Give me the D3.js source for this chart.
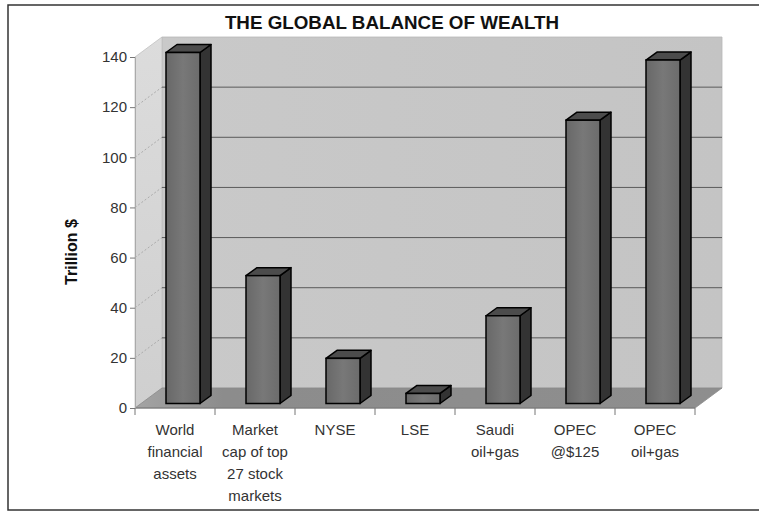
<!DOCTYPE html>
<html>
<head>
<meta charset="utf-8">
<script src="https://cdn.jsdelivr.net/npm/d3@7"></script>
<style>
  html, body { margin: 0; padding: 0; background: #ffffff; }
  svg { display: block; font-family: Arial, "Liberation Sans", sans-serif; }
</style>
</head>
<body>
<svg id="chart" width="759" height="513"></svg>
<script>
const title = "THE GLOBAL BALANCE OF WEALTH";
const yLabel = "Trillion $";
const categories = [
  "World financial assets",
  "Market cap of top 27 stock markets",
  "NYSE",
  "LSE",
  "Saudi oil+gas",
  "OPEC @$125",
  "OPEC oil+gas"
];
const categoryLines = [
  ["World", "financial", "assets"],
  ["Market", "cap of top", "27 stock", "markets"],
  ["NYSE"],
  ["LSE"],
  ["Saudi", "oil+gas"],
  ["OPEC", "@$125"],
  ["OPEC", "oil+gas"]
];
const values = [140, 51, 18, 4, 35, 113, 137];
const yTicks = [0, 20, 40, 60, 80, 100, 120, 140];

const svg = d3.select("#chart");

// frame
svg.append("rect").attr("x", 8).attr("y", 5).attr("width", 780).attr("height", 505)
  .attr("fill", "#ffffff").attr("stroke", "#333").attr("stroke-width", 1.5);

const x = d3.scaleBand().domain(categories).range([135, 695]);
const y = d3.scaleLinear().domain([0, 140]).range([408, 57]);
const depth = { dx: 27, dy: -20 };
const x0 = 135, x1 = 695;

const defs = svg.append("defs");
const gWall = defs.append("linearGradient").attr("id", "wall").attr("x1", 0).attr("x2", 1).attr("y1", 0).attr("y2", 0);
gWall.append("stop").attr("offset", "0%").attr("stop-color", "#c9c9c9");
gWall.append("stop").attr("offset", "100%").attr("stop-color", "#c4c4c4");
const gSide = defs.append("linearGradient").attr("id", "side").attr("x1", 0).attr("x2", 0).attr("y1", 0).attr("y2", 1);
gSide.append("stop").attr("offset", "0%").attr("stop-color", "#dcdcdc");
gSide.append("stop").attr("offset", "100%").attr("stop-color", "#cfcfcf");
const gFloor = defs.append("linearGradient").attr("id", "floor").attr("x1", 0).attr("x2", 1).attr("y1", 0).attr("y2", 0);
gFloor.append("stop").attr("offset", "0%").attr("stop-color", "#a4a4a4");
gFloor.append("stop").attr("offset", "15%").attr("stop-color", "#8c8c8c");
gFloor.append("stop").attr("offset", "100%").attr("stop-color", "#8e8e8e");
const gBar = defs.append("linearGradient").attr("id", "barFront").attr("x1", 0).attr("x2", 1).attr("y1", 0).attr("y2", 0);
gBar.append("stop").attr("offset", "0%").attr("stop-color", "#686868");
gBar.append("stop").attr("offset", "50%").attr("stop-color", "#787878");
gBar.append("stop").attr("offset", "100%").attr("stop-color", "#6c6c6c");

const line = d3.line();
const y0 = y(0), yTop = y(140);

// back wall
svg.append("path").attr("d", line([
  [x0 + depth.dx, yTop + depth.dy], [x1 + depth.dx, yTop + depth.dy],
  [x1 + depth.dx, y0 + depth.dy], [x0 + depth.dx, y0 + depth.dy]]) + "Z")
  .attr("fill", "url(#wall)").attr("stroke", "#b8b8b8").attr("stroke-width", 0.8);
// side wall
svg.append("path").attr("d", line([
  [x0, yTop], [x0 + depth.dx, yTop + depth.dy],
  [x0 + depth.dx, y0 + depth.dy], [x0, y0]]) + "Z")
  .attr("fill", "url(#side)").attr("stroke", "#c0c0c0").attr("stroke-width", 0.8);

// gridlines
yTicks.filter(t => t > 0 && t < 140).forEach(t => {
  svg.append("line")
    .attr("x1", x0 + depth.dx).attr("x2", x1 + depth.dx)
    .attr("y1", y(t) + depth.dy).attr("y2", y(t) + depth.dy)
    .attr("stroke", "#5a5a5a").attr("stroke-width", 1);
  svg.append("line")
    .attr("x1", x0).attr("x2", x0 + depth.dx)
    .attr("y1", y(t)).attr("y2", y(t) + depth.dy)
    .attr("stroke", "#a0a0a0").attr("stroke-width", 0.8).attr("stroke-dasharray", "2,2");
});

// floor
svg.append("path").attr("d", line([
  [x0, y0], [x0 + depth.dx, y0 + depth.dy],
  [x1 + depth.dx, y0 + depth.dy], [x1, y0]]) + "Z")
  .attr("fill", "url(#floor)").attr("stroke", "#8a8a8a").attr("stroke-width", 0.8);

// axes lines
svg.append("line").attr("x1", x0).attr("x2", x1).attr("y1", y0).attr("y2", y0)
  .attr("stroke", "#777").attr("stroke-width", 1);

// y axis
const yAxis = d3.axisLeft(y).tickValues(yTicks).tickSize(5).tickPadding(3);
const gy = svg.append("g").attr("transform", `translate(${x0},0)`).call(yAxis);
gy.select(".domain").attr("stroke", "#aaa");
gy.selectAll(".tick line").attr("stroke", "#777");
gy.selectAll(".tick text").attr("font-size", 15).attr("fill", "#333")
  .attr("font-family", "Arial, 'Liberation Sans', sans-serif");

// x ticks at category boundaries
const bounds = categories.map(c => x(c)).concat([x1]);
svg.selectAll(".xtick").data(bounds).enter().append("line")
  .attr("x1", d => d).attr("x2", d => d).attr("y1", y0).attr("y2", y0 + 7)
  .attr("stroke", "#777").attr("stroke-width", 1);

// x labels
const labels = svg.selectAll(".xlab").data(categories).enter().append("text")
  .attr("text-anchor", "middle").attr("font-size", 15).attr("fill", "#333");
labels.each(function (c, i) {
  const t = d3.select(this);
  categoryLines[i].forEach((ln, k) => {
    t.append("tspan").attr("x", x(c) + x.bandwidth() / 2).attr("y", 435 + k * 22).text(ln);
  });
});

// bars
const barW = 34;
const off = { dx: 8, dy: -4.5 };
const bd = { dx: 11, dy: -8 };
const bars = svg.selectAll(".bar").data(categories.map((c, i) => ({ c, v: values[i] }))).enter().append("g");
bars.each(function (d) {
  const g = d3.select(this);
  const l = x(d.c) + x.bandwidth() / 2 - barW / 2 + off.dx;
  const r = l + barW;
  const b = y(0) + off.dy;
  const t = y(d.v) + off.dy;
  // side
  g.append("path").attr("d", line([[r, t], [r + bd.dx, t + bd.dy], [r + bd.dx, b + bd.dy], [r, b]]) + "Z")
    .attr("fill", "#333").attr("stroke", "#000").attr("stroke-width", 1.5).attr("stroke-linejoin", "round");
  // top
  g.append("path").attr("d", line([[l, t], [l + bd.dx, t + bd.dy], [r + bd.dx, t + bd.dy], [r, t]]) + "Z")
    .attr("fill", "#4c4c4c").attr("stroke", "#000").attr("stroke-width", 1.5).attr("stroke-linejoin", "round");
  // front
  g.append("rect").attr("x", l).attr("y", t).attr("width", barW).attr("height", b - t)
    .attr("fill", "url(#barFront)").attr("stroke", "#000").attr("stroke-width", 1.5);
});

// title
svg.append("text").attr("x", 392).attr("y", 29).attr("text-anchor", "middle")
  .attr("font-size", 18.8).attr("font-weight", "bold").attr("fill", "#111").text(title);

// y label
svg.append("text").attr("transform", "translate(77,252) rotate(-90)")
  .attr("text-anchor", "middle").attr("font-size", 16).attr("font-weight", "bold")
  .attr("fill", "#111").text(yLabel);
</script>
</body>
</html>
